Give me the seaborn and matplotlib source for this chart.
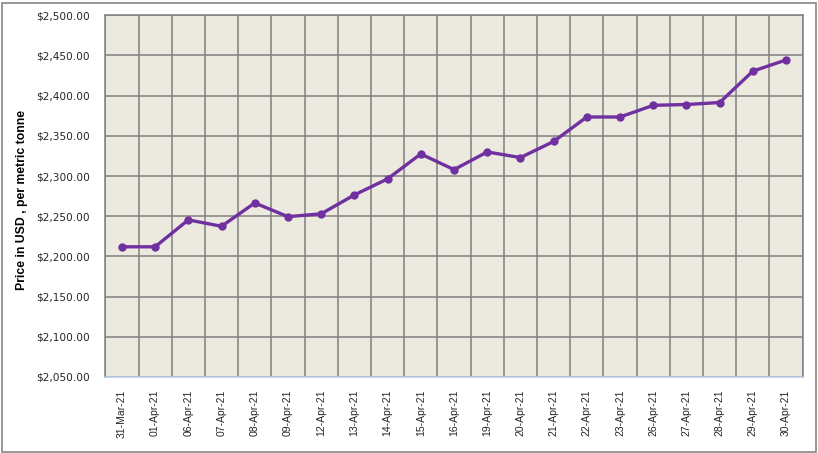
import matplotlib
matplotlib.use("Agg")
import matplotlib.pyplot as plt
import seaborn as sns
import pandas as pd
from matplotlib.patches import Rectangle
from matplotlib.ticker import FuncFormatter, MultipleLocator, FixedLocator

dates = ["31-Mar-21", "01-Apr-21", "06-Apr-21", "07-Apr-21", "08-Apr-21", "09-Apr-21",
         "12-Apr-21", "13-Apr-21", "14-Apr-21", "15-Apr-21", "16-Apr-21", "19-Apr-21",
         "20-Apr-21", "21-Apr-21", "22-Apr-21", "23-Apr-21", "26-Apr-21", "27-Apr-21",
         "28-Apr-21", "29-Apr-21", "30-Apr-21"]
prices = [2212.0, 2212.0, 2245.5, 2237.5, 2266.5, 2249.5, 2253.0, 2276.5, 2296.5, 2327.5,
          2308.0, 2330.0, 2323.0, 2343.0, 2373.5, 2373.5, 2388.0, 2389.0, 2391.5, 2430.5,
          2444.5]
y_label = "Price in USD , per metric tonne"

sns.set_theme(style="white")
plt.rcParams['font.family'] = ['Liberation Sans', 'DejaVu Sans']

df = pd.DataFrame({"date": dates, "price": prices})

fig = plt.figure(figsize=(8.18, 4.53), dpi=100)
ax = fig.add_axes([105.3 / 818, 1 - 377 / 453, (802.7 - 105.3) / 818, (377 - 15.3) / 453])
ax.set_facecolor("#ECE9DF")

sns.lineplot(data=df, x="date", y="price", sort=False, ax=ax, color="#7030A0",
             linewidth=2.4, marker="o", markersize=6, markeredgewidth=0)

ax.set_xlim(-0.5, len(dates) - 0.5)
ax.set_ylim(2050, 2500)
ax.yaxis.set_major_locator(MultipleLocator(50))
ax.yaxis.set_major_formatter(FuncFormatter(lambda v, p: f"${v:,.2f}"))
ax.xaxis.set_major_locator(FixedLocator(range(len(dates))))
ax.set_xticklabels(dates, rotation=90, fontsize=7.5)
ax.xaxis.set_minor_locator(FixedLocator([i + 0.5 for i in range(-1, len(dates))]))
ax.grid(True, which="major", axis="y", color="#808080", linewidth=1.1)
ax.grid(True, which="minor", axis="x", color="#808080", linewidth=1.1)
ax.grid(False, which="major", axis="x")
ax.tick_params(axis="both", which="both", length=0)
ax.tick_params(axis="y", pad=11)
ax.tick_params(axis="x", pad=9)
for lab in ax.get_yticklabels():
    lab.set_family(['DejaVu Sans'])
    lab.set_fontsize(7.6)

for s in ["left", "right", "top"]:
    ax.spines[s].set_color("#808080")
    ax.spines[s].set_linewidth(1.1)
ax.spines["bottom"].set_color("#B9CDE5")
ax.spines["bottom"].set_linewidth(1.1)

ax.set_xlabel("")
ax.set_ylabel("")
fig.text(22 / 818, 1 - 200 / 453, y_label, rotation=90, ha="center", va="center",
         fontsize=8.8, fontweight="bold", color="black")

fig.patches.append(Rectangle((1.5 / 818, 1.5 / 453), 814 / 818, 449 / 453,
                             transform=fig.transFigure, fill=False,
                             edgecolor="#868686", linewidth=1.2))

fig.savefig("out.png", dpi=100)
